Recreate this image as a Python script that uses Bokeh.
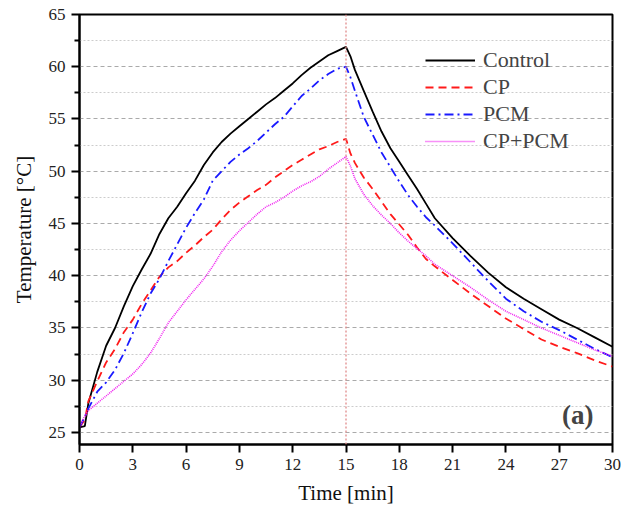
from bokeh.plotting import figure
from bokeh.models import (ColumnDataSource, FixedTicker, Legend, LegendItem,
                          Span, Label, Range1d)
from bokeh.embed import file_html
from bokeh.resources import INLINE

# ---- data ----
time_min = [0, 0.3, 0.5, 1, 1.5, 2, 2.5, 3, 3.5, 4, 4.5, 5, 5.5, 6, 6.5, 7,
            7.5, 8, 8.5, 9, 9.5, 10, 10.5, 11, 11.5, 12, 12.5, 13, 13.5, 14,
            14.5, 15, 15.25, 15.5, 16, 16.5, 17, 17.5, 18, 18.5, 19, 19.5, 20,
            21, 22, 23, 24, 25, 26, 27, 28, 29, 30]

control = [25.5, 25.6, 27.8, 30.8, 33.3, 35.0, 37.1, 39.0, 40.6, 42.1, 44.0,
           45.5, 46.6, 47.9, 49.1, 50.6, 51.8, 52.8, 53.6, 54.3, 55.0, 55.7,
           56.4, 57.0, 57.7, 58.4, 59.2, 59.9, 60.5, 61.1, 61.5, 61.9, 61.0,
           59.7, 57.7, 55.7, 53.8, 52.2, 50.9, 49.6, 48.3, 46.9, 45.5, 43.6,
           41.9, 40.3, 38.9, 37.8, 36.8, 35.8, 35.0, 34.1, 33.2]

cp = [25.5, 26.2, 28.0, 29.9, 31.7, 33.0, 34.6, 35.8, 37.3, 38.6, 39.9, 40.8,
      41.4, 42.2, 42.9, 43.7, 44.4, 45.4, 46.3, 47.0, 47.6, 48.2, 48.7, 49.4,
      50.0, 50.6, 51.1, 51.6, 52.1, 52.4, 52.8, 53.1, 51.7, 50.8, 49.4, 48.3,
      47.1, 45.9, 44.9, 43.9, 42.7, 41.6, 40.9, 39.6, 38.3, 37.1, 35.9, 34.9,
      33.9, 33.2, 32.6, 31.9, 31.3]

pcm = [25.5, 26.5, 27.3, 28.9, 29.8, 31.0, 32.6, 34.5, 36.5, 38.3, 39.7, 41.4,
       43.0, 44.6, 46.0, 47.3, 49.1, 50.0, 50.9, 51.6, 52.2, 52.9, 53.7, 54.5,
       55.2, 56.2, 57.2, 57.9, 58.7, 59.3, 59.8, 60.0, 59.0, 57.7, 55.2, 53.5,
       51.8, 50.4, 49.0, 47.7, 46.6, 45.6, 44.8, 43.1, 41.3, 39.5, 37.8, 36.6,
       35.6, 34.8, 33.9, 33.0, 32.2]

cp_pcm = [25.5, 26.6, 27.1, 27.8, 28.5, 29.2, 29.9, 30.6, 31.5, 32.6, 34.0,
          35.5, 36.6, 37.7, 38.7, 39.7, 40.9, 42.3, 43.4, 44.3, 45.1, 45.9,
          46.6, 47.0, 47.5, 48.1, 48.6, 49.0, 49.5, 50.2, 50.8, 51.4, 50.5,
          49.3, 47.8, 46.7, 45.8, 45.0, 44.1, 43.3, 42.6, 41.9, 41.1, 40.0,
          38.9, 37.7, 36.6, 35.8, 35.0, 34.3, 33.6, 32.9, 32.3]

series_names = ["Control", "CP", "PCM", "CP+PCM"]
x_ticks = [0, 3, 6, 9, 12, 15, 18, 21, 24, 27, 30]
y_ticks = [25, 30, 35, 40, 45, 50, 55, 60, 65]
y_minor = [27.5, 32.5, 37.5, 42.5, 47.5, 52.5, 57.5, 62.5]
heating_end = 15

FONT = "Liberation Serif"

p = figure(width=622, height=508, output_backend="svg", toolbar_location=None,
           x_range=Range1d(0, 30), y_range=Range1d(23.85, 65),
           min_border_left=79, min_border_right=10, min_border_top=14,
           min_border_bottom=64)
p.background_fill_color = "white"
p.border_fill_color = "white"
p.outline_line_color = "black"
p.outline_line_width = 2

src = ColumnDataSource(dict(t=time_min, control=control, cp=cp, pcm=pcm,
                            cp_pcm=cp_pcm))

r1 = p.line("t", "control", source=src, line_color="black", line_width=1.8)
r2 = p.line("t", "cp", source=src, line_color="#ff1a1a", line_width=1.8,
            line_dash="8 5")
r3 = p.line("t", "pcm", source=src, line_color="#1a1aff", line_width=1.8,
            line_dash="9 4 2 4")
r4 = p.line("t", "cp_pcm", source=src, line_color="#f020f0", line_width=1.6,
            line_dash="1 1")

p.add_layout(Span(location=heating_end, dimension="height",
                  line_color="#e08a8a", line_dash="2 2", line_width=1.3))

# axes
p.xaxis.ticker = FixedTicker(ticks=x_ticks)
p.yaxis.ticker = FixedTicker(ticks=y_ticks, minor_ticks=y_minor)
for ax in (p.xaxis[0], p.yaxis[0]):
    ax.axis_line_width = 2
    ax.major_tick_line_width = 2
    ax.minor_tick_line_width = 2
    ax.major_tick_in = 0
    ax.major_tick_out = 8
    ax.minor_tick_in = 0
    ax.minor_tick_out = 5
    ax.major_label_text_font = FONT
    ax.major_label_text_font_size = "17px"
    ax.major_label_text_color = "#222222"
    ax.axis_label_text_font = FONT
    ax.axis_label_text_font_size = "21px"
    ax.axis_label_text_font_style = "normal"
    ax.axis_label_text_color = "#111111"
    ax.major_label_standoff = 6
p.xaxis.axis_label = "Time [min]"
p.yaxis.axis_label = "Temperature [°C]"
p.xaxis.axis_label_standoff = 8
p.yaxis.axis_label_standoff = 10

p.xgrid.grid_line_color = None
p.ygrid.grid_line_color = "#aaaaaa"
p.ygrid.grid_line_dash = "4 3"
p.ygrid.grid_line_width = 1
p.ygrid.minor_grid_line_color = "#cccccc"
p.ygrid.minor_grid_line_dash = "2 2"
p.ygrid.minor_grid_line_width = 1

legend = Legend(items=[LegendItem(label=n, renderers=[r])
                       for n, r in zip(series_names, [r1, r2, r3, r4])],
                location=(346, 290))
legend.label_text_font = FONT
legend.label_text_font_size = "22px"
legend.glyph_width = 50
legend.glyph_height = 20
legend.label_height = 20
legend.spacing = 1
legend.padding = 0
legend.margin = 0
legend.label_standoff = 8
legend.border_line_color = None
legend.background_fill_alpha = 0
p.add_layout(legend, "center")

p.add_layout(Label(x=28.93, y=26.7, text="(a)", text_font=FONT,
                   text_font_size="27px", text_font_style="bold",
                   text_align="right", text_baseline="middle"))

open("out.html", "w").write(file_html(p, INLINE))
